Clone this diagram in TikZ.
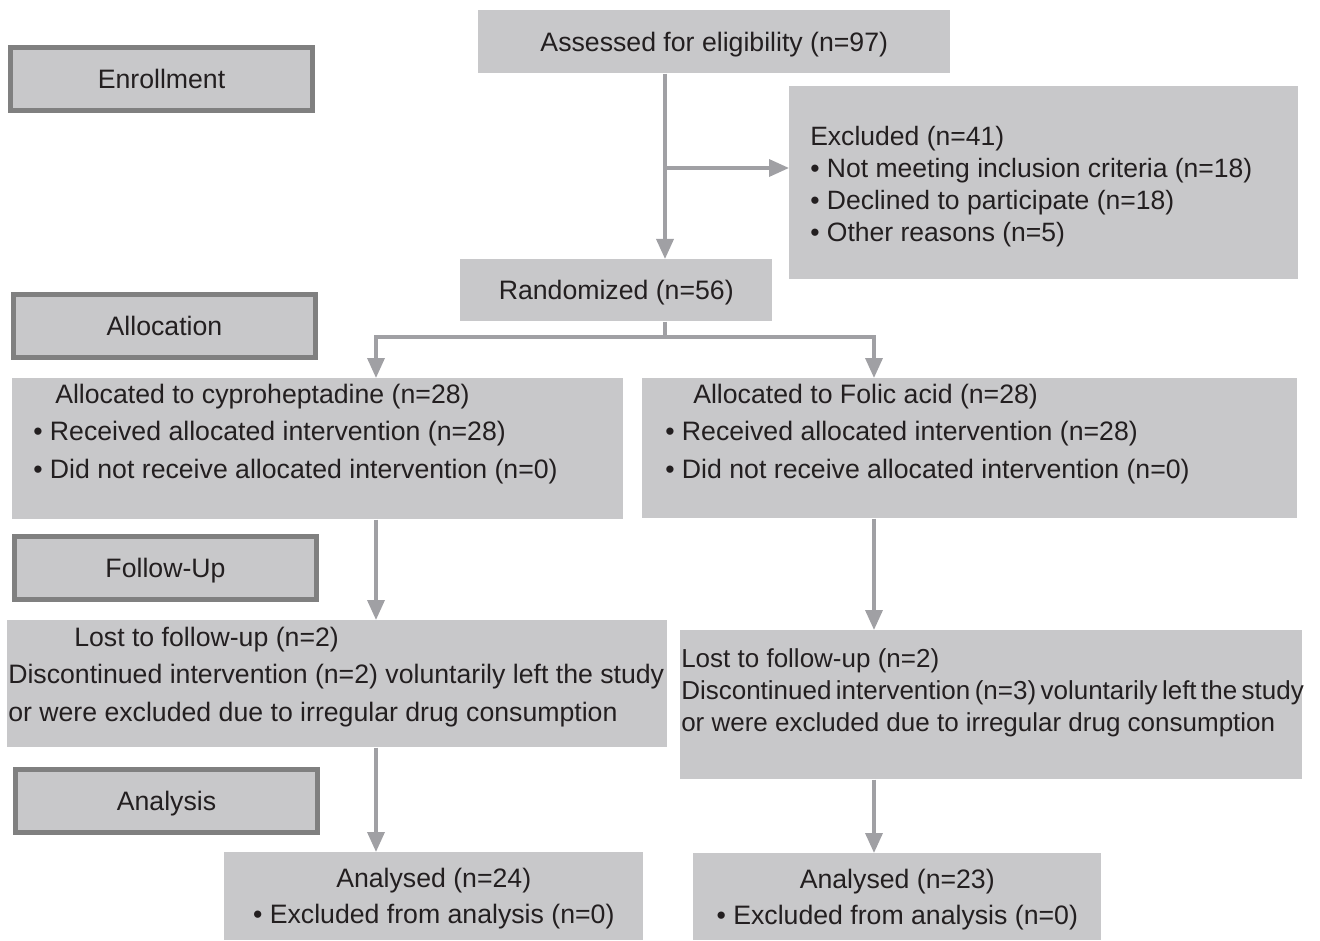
\documentclass[tikz,border=0pt]{standalone}
\usepackage{fontspec}
\setmainfont{Liberation Sans}
\usetikzlibrary{arrows.meta, positioning}
\newdimen\px \px=0.75pt
\definecolor{boxgray}{RGB}{200,200,202}
\definecolor{framegray}{RGB}{128,128,128}
\definecolor{arrowgray}{RGB}{160,160,164}
\definecolor{ink}{RGB}{35,31,32}
\tikzset{
  box/.style={fill=boxgray, inner sep=0, anchor=north west, text=ink, text depth=0pt},
  stage/.style={box, draw=framegray, line width=5\px, minimum width=302\px, minimum height=63\px},
  info/.style={anchor=north west, inner sep=0, align=left, text=ink},
  flow/.style={draw=arrowgray, line width=3.5\px, -{Triangle[width=12.75pt,length=15pt]}}
}

\begin{document}
\begin{tikzpicture}[x=1\px, y=-1\px, font=\fontsize{20}{28}\selectfont]
        \useasboundingbox (0,0) rectangle (1320,941);

        % Etapas
        \node [stage] (enroll) at (8,45) {Enrollment};
        \node [stage] (alloc) at (11,292) {Allocation};
        \node [stage] (follow) at (12,534) {Follow-Up};
        \node [stage] (analysis) at (13,767) {Analysis};

        % Cajas
        \node [box, minimum width=472\px, minimum height=63\px] (assess) at (478,10) {Assessed for eligibility (n=97)};
        \node [box, minimum width=509\px, minimum height=193\px] (excl) at (789,86) {};
        \node [box, minimum width=312\px, minimum height=62\px] (rand) at (460,259) {Randomized (n=56)};
        \node [box, minimum width=611\px, minimum height=141\px] (allocL) at (12,378) {};
        \node [box, minimum width=655\px, minimum height=140\px] (allocR) at (642,378) {};
        \node [box, minimum width=660\px, minimum height=127\px] (lostL) at (7,620) {};
        \node [box, minimum width=622\px, minimum height=149\px] (lostR) at (680,630) {};
        \node [box, minimum width=419\px, minimum height=88\px, align=center, font=\fontsize{20}{27}\selectfont] (anaL) at (224,852)
              {Analysed (n=24)\\ • Excluded from analysis (n=0)};
        \node [box, minimum width=408\px, minimum height=87\px, align=center, font=\fontsize{20}{27}\selectfont] (anaR) at (693,853)
              {Analysed (n=23)\\ • Excluded from analysis (n=0)};

        % Textos
        \node [info, font=\fontsize{19.9}{24}\selectfont] (excltxt) at (810,126)
              {Excluded (n=41)\\ • Not meeting inclusion criteria (n=18)\\ • Declined to participate (n=18)\\ • Other reasons (n=5)};
        \node [info] (allocLtxt) at (33,384)
              {\hspace*{22\px}Allocated to cyproheptadine (n=28)\\ • Received allocated intervention (n=28)\\ • Did not receive allocated intervention (n=0)};
        \node [info] (allocRtxt) at (665,384)
              {\hspace*{28\px}Allocated to Folic acid (n=28)\\ • Received allocated intervention (n=28)\\ • Did not receive allocated intervention (n=0)};
        \node [info] (lostLtxt) at (8,627)
              {\hspace*{66\px}Lost to follow-up (n=2)\\ Discontinued intervention (n=2) voluntarily left the study\\ or were excluded due to irregular drug consumption};
        \node [info, font=\fontsize{19.5}{24}\selectfont] (lostRtxt) at (681,648)
              {Lost to follow-up (n=2)\\ {\spaceskip=0.17em Discontinued intervention (n=3) voluntarily left the study}\\ or were excluded due to irregular drug consumption};

        % Líneas
        \coordinate (trunk) at (665,0);
        \coordinate (branch) at (665,168);
        \coordinate (split) at (0,337);
        \coordinate (colL) at (376,0);
        \coordinate (colR) at (874,0);
        \draw [flow] (assess.south -| trunk) -- (rand.north -| trunk);
        \draw [flow] (branch) -- (branch -| excl.west);
        \draw [flow] (rand.south -| trunk) -- (trunk |- split) -| (allocL.north -| colL);
        \draw [flow] (trunk |- split) -| (allocR.north -| colR);
        \draw [flow] (allocL.south -| colL) -- (lostL.north -| colL);
        \draw [flow] (allocR.south -| colR) -- (lostR.north -| colR);
        \draw [flow] (lostL.south -| colL) -- (anaL.north -| colL);
        \draw [flow] (lostR.south -| colR) -- (anaR.north -| colR);
    \end{tikzpicture}
\end{document}
